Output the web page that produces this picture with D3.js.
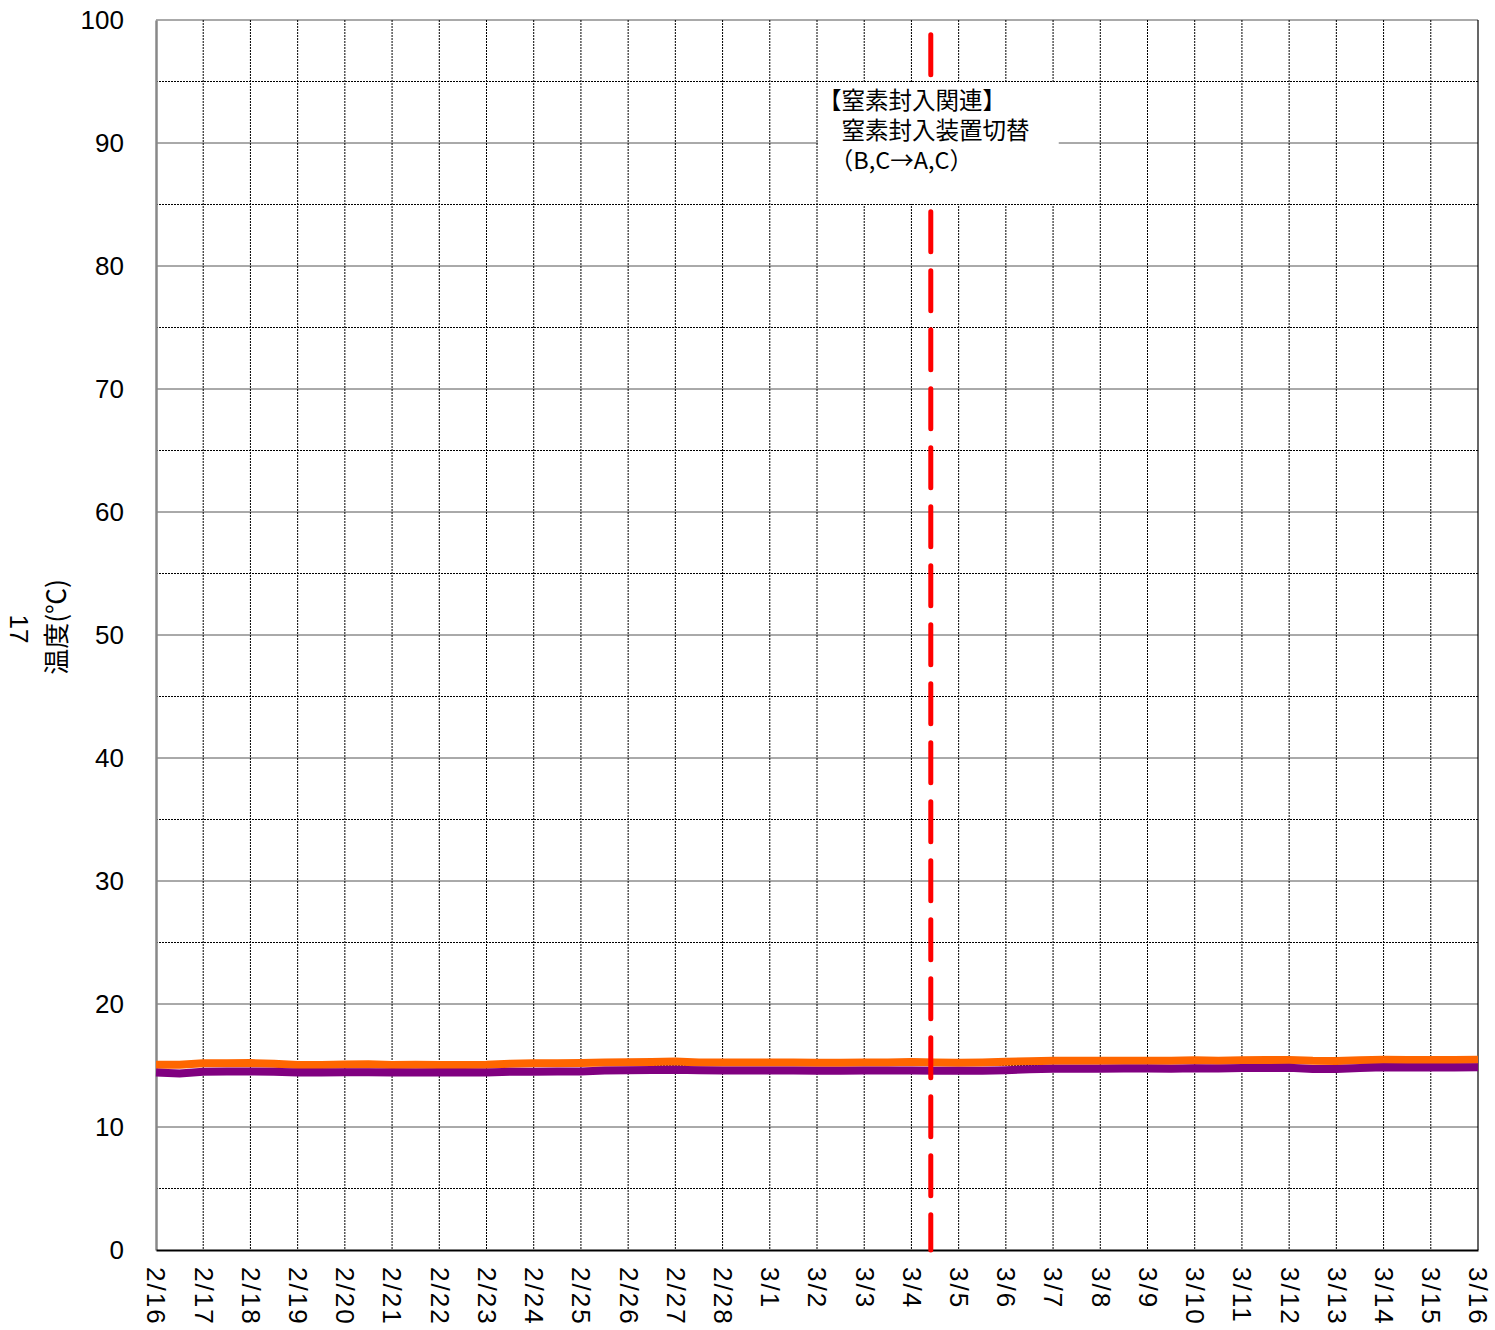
<!DOCTYPE html>
<html>
<head>
<meta charset="utf-8">
<title>温度</title>
<script src="https://cdnjs.cloudflare.com/ajax/libs/d3/7.8.5/d3.min.js"></script>
<style>
  body { margin: 0; background: #fff; }
  text { font-family: "Liberation Sans", Arial, sans-serif; fill: #000; }
  .jp { font-family: "Noto Sans CJK JP", sans-serif; }
</style>
</head>
<body>
<div id="chart"></div>
<script>
// x tick labels, one per day (2/16 .. 3/16)
var dayLabels = ['2/16','2/17','2/18','2/19','2/20','2/21','2/22','2/23','2/24','2/25','2/26','2/27','2/28',
                 '3/1','3/2','3/3','3/4','3/5','3/6','3/7','3/8','3/9','3/10','3/11','3/12','3/13','3/14','3/15','3/16'];
var yTicks = [0, 10, 20, 30, 40, 50, 60, 70, 80, 90, 100];

// readings every 12 hours from 2/16 00:00
var orangeVals = [15.07,15.07,15.18,15.18,15.2,15.15,15.05,15.05,15.08,15.1,15.05,15.06,15.05,15.05,15.07,
                  15.15,15.18,15.18,15.2,15.25,15.26,15.28,15.32,15.25,15.24,15.25,15.24,15.25,15.22,15.23,
                  15.25,15.25,15.28,15.24,15.23,15.25,15.3,15.35,15.38,15.38,15.38,15.38,15.39,15.38,15.42,
                  15.38,15.42,15.45,15.45,15.38,15.36,15.42,15.46,15.45,15.45,15.44,15.46];
var purpleVals = [14.44,14.35,14.5,14.52,14.52,14.5,14.43,14.43,14.45,14.45,14.43,14.43,14.43,14.43,14.44,
                  14.5,14.5,14.52,14.52,14.6,14.62,14.63,14.65,14.62,14.6,14.6,14.6,14.6,14.58,14.57,
                  14.6,14.6,14.6,14.58,14.57,14.58,14.62,14.7,14.74,14.74,14.74,14.75,14.76,14.74,14.78,
                  14.76,14.8,14.8,14.82,14.72,14.72,14.8,14.85,14.84,14.84,14.84,14.86];

// event: 3/4 around 10:00
var eventDay = 16.41;
var noteLines = ['【窒素封入関連】', '　窒素封入装置切替', '　（B,C→A,C）'];

var margin = {top: 20, right: 17, bottom: 80, left: 156};
var W = 1495, H = 1330;
var width = W - margin.left - margin.right;
var height = H - margin.top - margin.bottom;

var svg = d3.select('#chart').append('svg').attr('width', W).attr('height', H)
  .append('g').attr('transform', 'translate(' + margin.left + ',' + margin.top + ')');

var x = d3.scaleLinear().domain([0, dayLabels.length - 1]).range([0, width]);
var y = d3.scaleLinear().domain([0, 100]).range([height, 0]);

// minor horizontal grid (every 5)
svg.append('g').selectAll('line').data(d3.range(5, 100, 10)).enter().append('line')
  .attr('x1', 0).attr('x2', width).attr('y1', function(d){ return y(d); }).attr('y2', function(d){ return y(d); })
  .attr('stroke', '#000').attr('stroke-width', 1).attr('stroke-dasharray', '2,1');

// major horizontal grid
svg.append('g').selectAll('line').data(yTicks.slice(1)).enter().append('line')
  .attr('x1', 0).attr('x2', width).attr('y1', function(d){ return y(d); }).attr('y2', function(d){ return y(d); })
  .attr('stroke', '#555').attr('stroke-width', 1);

// vertical day grid
svg.append('g').selectAll('line').data(d3.range(1, dayLabels.length - 1)).enter().append('line')
  .attr('x1', function(d){ return x(d); }).attr('x2', function(d){ return x(d); })
  .attr('y1', 0).attr('y2', height)
  .attr('stroke', '#000').attr('stroke-width', 1).attr('stroke-dasharray', '2,1');

// right border
svg.append('line').attr('x1', width).attr('x2', width).attr('y1', 0).attr('y2', height)
  .attr('stroke', '#000').attr('stroke-width', 1.2);

// axes
var yAxis = d3.axisLeft(y).tickValues(yTicks).tickSize(0).tickPadding(32);
var gy = svg.append('g').call(yAxis);
gy.select('.domain').attr('stroke', '#888').attr('stroke-width', 2.5);
gy.selectAll('text').style('font-size', '26px').style('font-family', '"Liberation Sans", Arial, sans-serif');

var xAxis = d3.axisBottom(x).tickValues(d3.range(dayLabels.length)).tickSize(0)
  .tickFormat(function(d){ return dayLabels[d]; });
var gx = svg.append('g').attr('transform', 'translate(0,' + height + ')').call(xAxis);
gx.select('.domain').attr('stroke', '#000').attr('stroke-width', 2);
gx.selectAll('text')
  .attr('transform', 'rotate(90)')
  .attr('x', 17).attr('y', 0).attr('dy', '0.35em')
  .style('text-anchor', 'start')
  .style('font-size', '26px').style('letter-spacing', '2px')
  .style('font-family', '"Liberation Sans", Arial, sans-serif');

// data lines
var line = d3.line().x(function(d, i){ return x(i / 2); }).y(function(d){ return y(d); });
svg.append('path').datum(orangeVals).attr('d', line)
  .attr('fill', 'none').attr('stroke', '#FF6600').attr('stroke-width', 8).attr('stroke-linejoin', 'round');
svg.append('path').datum(purpleVals).attr('d', line)
  .attr('fill', 'none').attr('stroke', '#800080').attr('stroke-width', 8).attr('stroke-linejoin', 'round');

// event line
svg.append('line').attr('x1', x(eventDay)).attr('x2', x(eventDay))
  .attr('y1', y(98.8)).attr('y2', height)
  .attr('stroke', '#FF0000').attr('stroke-width', 5).attr('stroke-linecap', 'round')
  .attr('stroke-dasharray', '40,19');

// annotation box
svg.append('rect').attr('x', x(14) + 1).attr('y', y(95) + 0.5)
  .attr('width', x(19.12) - x(14) - 1).attr('height', y(85) - y(95) - 1)
  .attr('fill', '#fff');
var note = svg.append('text').attr('class', 'jp').style('font-size', '23.5px');
note.selectAll('tspan').data(noteLines).enter().append('tspan')
  .attr('x', x(14) + 1).attr('y', function(d, i){ return y(95) + 27 + i * 30; })
  .text(function(d){ return d; });

// y axis title
svg.append('text').attr('class', 'jp')
  .attr('transform', 'translate(' + (-90) + ',' + (y(50) - 8) + ') rotate(-90)')
  .attr('text-anchor', 'middle').style('font-size', '26px')
  .text('温度(℃)');
svg.append('text')
  .attr('transform', 'translate(' + (-146) + ',' + (y(50) - 6) + ') rotate(90)')
  .attr('text-anchor', 'middle').style('font-size', '26px')
  .text('17');
</script>
</body>
</html>
